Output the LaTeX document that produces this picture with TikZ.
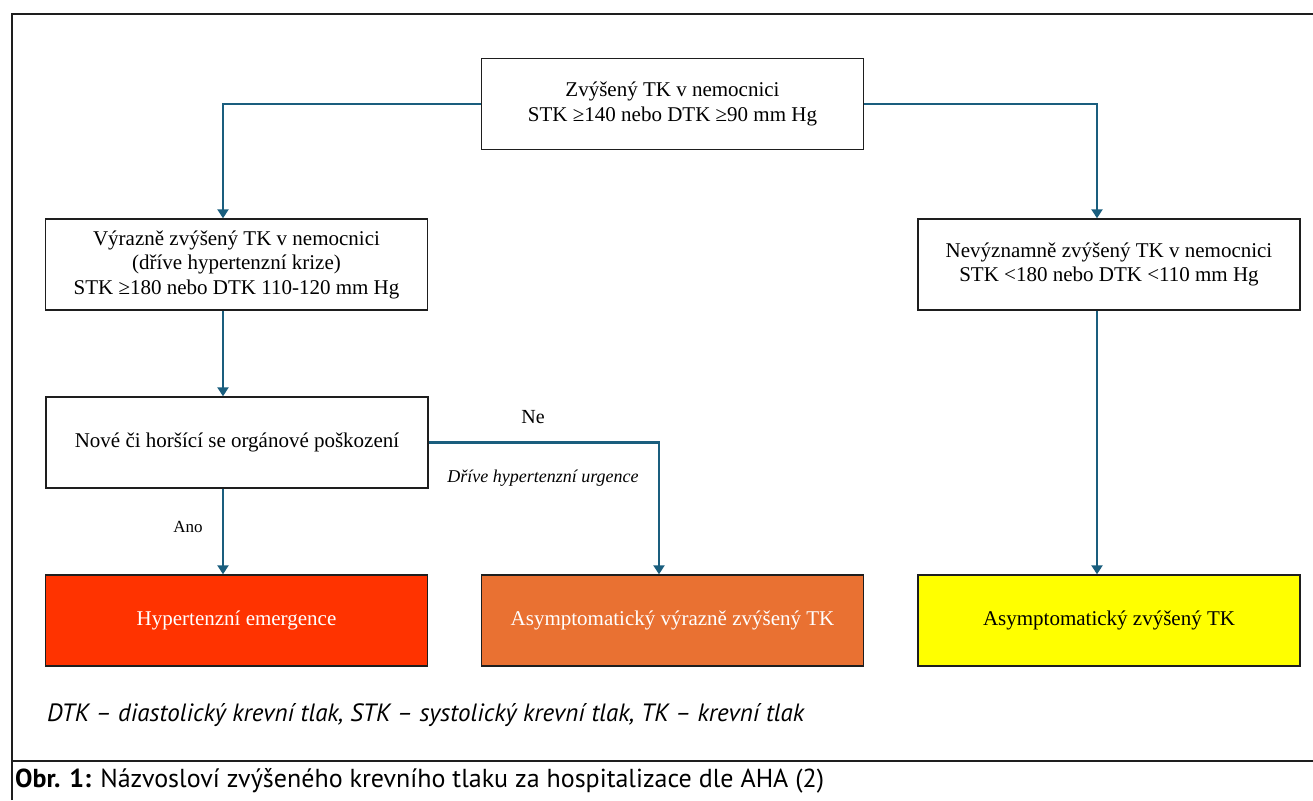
\documentclass[tikz,border=0pt]{standalone}
\usepackage{fontspec}
\setmainfont{Liberation Serif}
\newfontfamily\legendfont{PT Sans}
\usetikzlibrary{arrows.meta,positioning}
\definecolor{flowline}{RGB}{26,94,126}
\definecolor{boxred}{HTML}{FF3300}
\definecolor{boxorange}{HTML}{E97132}
\definecolor{boxyellow}{HTML}{FFFF00}
\definecolor{frameline}{RGB}{30,30,30}
\begin{document}
\begin{tikzpicture}[x=1pt,y=-1pt,
  stepbox/.style={draw=frameline,line width=1.4pt,rectangle,minimum width=382pt,minimum height=91pt,
    align=center,inner sep=0pt,font=\fontsize{21}{24.5}\selectfont},
  flow/.style={draw=flowline,line width=2.2pt},
  flowarr/.style={flow,-{Triangle[width=11pt,length=9pt]}},
  edgelabel/.style={inner sep=0pt,font=\fontsize{17}{20}\selectfont}
]
\useasboundingbox (0,0) rectangle (1313,800);
\fill[white] (0,0) rectangle (1313,800);

% frame and caption rule
\draw[frameline,line width=1.6pt] (12,800) -- (12,14) -- (1313,14);
\draw[frameline,line width=1.6pt] (12,761) -- (1313,761);

% guide coordinates for the vertical connectors
\coordinate (lx) at (223,0);
\coordinate (rx) at (1097,0);
\coordinate (nx) at (659,0);

% boxes
\node[stepbox] (top) at (672.5,104) {Zvýšený TK v nemocnici\\STK ≥140 nebo DTK ≥90 mm Hg};
\node[stepbox] (sev) at (236.5,264.5) {Výrazně zvýšený TK v nemocnici\\(dříve hypertenzní krize)\\STK ≥180 nebo DTK 110-120 mm Hg};
\node[stepbox] (dmg) at (237,442.5) {Nové či horšící se orgánové poškození};
\node[stepbox] (mild) at (1109,264.5) {Nevýznamně zvýšený TK v nemocnici\\STK <180 nebo DTK <110 mm Hg};
\node[stepbox,fill=boxred,text=white] (emer) at (236.5,620.5) {Hypertenzní emergence};
\node[stepbox,fill=boxorange,text=white] (asev) at (672.5,620.5) {Asymptomatický výrazně zvýšený TK};
\node[stepbox,fill=boxyellow] (amild) at (1109,620.5) {Asymptomatický zvýšený TK};

% connectors
\draw[flowarr] (top.west) -| (lx |- sev.north);
\draw[flowarr] (top.east) -| (rx |- mild.north);
\draw[flowarr] (lx |- sev.south) -- (lx |- dmg.north);
\draw[flowarr] (lx |- dmg.south) -- (lx |- emer.north);
\draw[flowarr] (dmg.east) -| (nx |- asev.north);
\draw[flowarr] (rx |- mild.south) -- (rx |- amild.north);

% connector labels
\node[edgelabel,font=\fontsize{20}{22}\selectfont] (ne) at (533,417) {Ne};
\node[edgelabel,font=\itshape\fontsize{18}{20}\selectfont] (urg) at (543,478) {Dříve hypertenzní urgence};
\node[edgelabel] (ano) at (188,527) {Ano};

% abbreviations and caption
\node[anchor=west,inner sep=0pt,font=\legendfont\itshape\fontsize{25}{27}\selectfont] (abbr) at (47,715)
  {DTK – diastolický krevní tlak, STK – systolický krevní tlak, TK – krevní tlak};
\node[anchor=west,inner sep=0pt,font=\legendfont\fontsize{26}{28}\selectfont] (cap) at (15,781)
  {\textbf{Obr. 1:} Názvosloví zvýšeného krevního tlaku za hospitalizace dle AHA (2)};
\end{tikzpicture}
\end{document}
